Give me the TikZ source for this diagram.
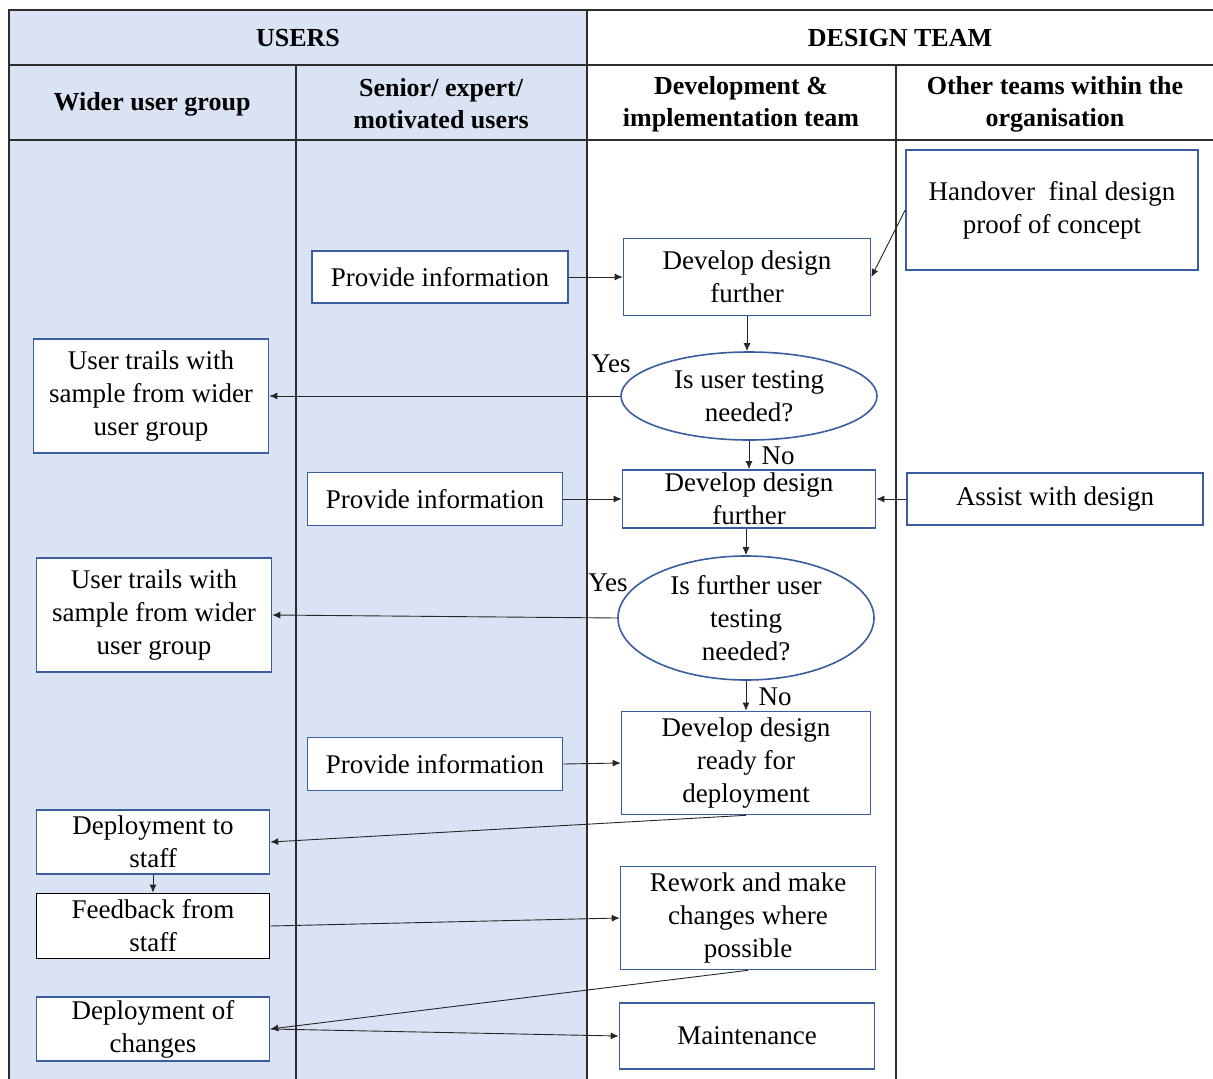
\documentclass[tikz,border=0pt]{standalone}
\usepackage{fontspec}
\setmainfont{Liberation Serif}
\definecolor{laneblue}{RGB}{218, 227, 243}
\definecolor{boxblue}{RGB}{58, 92, 160}
\definecolor{linegrey}{RGB}{45, 45, 45}
\usepackage{tikz}
\usetikzlibrary{shapes.geometric, arrows.meta}

\begin{document}
\begin{tikzpicture}[x=1pt, y=-1pt,
  actbox/.style={draw=boxblue, fill=white, line width=1.6pt, align=center, inner sep=0pt, font=\fontsize{27}{33}\selectfont},
  decision/.style={ellipse, draw=boxblue, fill=white, line width=1.6pt, align=center, inner sep=0pt, font=\fontsize{27}{33}\selectfont},
  lanehead/.style={align=center, font=\fontsize{26}{32}\selectfont\bfseries},
  flow/.style={-{Latex[length=8pt, width=7pt]}, line width=0.9pt, draw=black!85},
  lane/.style={line width=1.8pt, draw=linegrey}]
  \useasboundingbox (0, 0) rectangle (1213, 1079);

  % Swimlanes
  \fill[laneblue] (9, 10) rectangle (587, 1079);
  \draw[lane] (9, 1079) -- (9, 10) -- (1213, 10);
  \draw[lane] (9, 65) -- (1213, 65);
  \draw[lane] (9, 140) -- (1213, 140);
  \draw[lane] (587, 10) -- (587, 1079);
  \draw[lane] (296, 65) -- (296, 1079);
  \draw[lane] (896, 65) -- (896, 1079);

  \node[lanehead] (users) at (298, 38) {USERS};
  \node[lanehead] (design) at (900, 38) {DESIGN TEAM};
  \node[lanehead] (wider) at (152, 104) {Wider user group};
  \node[lanehead] (senior) at (441, 104) {Senior/ expert/\\motivated users};
  \node[lanehead] (devteam) at (741, 104) {Development \&\\implementation team};
  \node[lanehead] (other) at (1055, 104) {Other teams within the\\organisation};

  % First round
  \node[actbox, minimum width=292, minimum height=120] (handover) at (1052, 210) {Handover\ \ final design\\proof of concept};
  \node[actbox, minimum width=247, minimum height=77] (dev1) at (747, 277) {Develop design\\further};
  \node[actbox, minimum width=256, minimum height=52] (prov1) at (440, 277) {Provide information};
  \node[decision, minimum width=256, minimum height=88] (q1) at (749, 396) {Is user testing\\needed?};
  \node[actbox, minimum width=235, minimum height=114] (trial1) at (151, 396) {User trails with\\sample from wider\\user group};

  \draw[flow] (prov1.east) -- (dev1.west);
  \draw[flow] (handover.west) -- (dev1.east);
  \draw[flow] (dev1.south) -- (dev1.south |- q1.north);
  \draw[flow] (q1.west) -- (trial1.east);
  \node[font=\fontsize{27}{33}\selectfont] (yes1) at (611, 364) {Yes};

  % Second round
  \node[actbox, minimum width=253, minimum height=58] (dev2) at (749, 499) {Develop design\\further};
  \node[actbox, minimum width=255, minimum height=53] (prov2) at (435, 499) {Provide information};
  \node[actbox, minimum width=296, minimum height=52] (assist) at (1055, 499) {Assist with design};
  \node[decision, minimum width=256, minimum height=124] (q2) at (746, 618) {Is further user\\testing\\needed?};
  \node[actbox, minimum width=235, minimum height=114] (trial2) at (154, 615) {User trails with\\sample from wider\\user group};

  \draw[flow] (q1.south) -- (dev2.north);
  \node[font=\fontsize{27}{33}\selectfont] (no1) at (778, 456) {No};
  \draw[flow] (prov2.east) -- (dev2.west);
  \draw[flow] (assist.west) -- (dev2.east);
  \draw[flow] (q2.north |- dev2.south) -- (q2.north);
  \draw[flow] (q2.west) -- (trial2.east);
  \node[font=\fontsize{27}{33}\selectfont] (yes2) at (608, 583) {Yes};

  % Deployment
  \node[actbox, minimum width=249, minimum height=103] (dev3) at (746, 763) {Develop design\\ready for\\deployment};
  \node[actbox, minimum width=255, minimum height=53] (prov3) at (435, 764) {Provide information};
  \node[actbox, minimum width=233, minimum height=64] (deploy1) at (153, 842) {Deployment to\\staff};
  \node[actbox, draw=black, minimum width=233, minimum height=65] (feedback) at (153, 926) {Feedback from\\staff};
  \node[actbox, minimum width=255, minimum height=103] (rework) at (748, 918) {Rework and make\\changes where\\possible};
  \node[actbox, minimum width=233, minimum height=64] (deploy2) at (153, 1029) {Deployment of\\changes};
  \node[actbox, minimum width=255, minimum height=66] (maint) at (747, 1036) {Maintenance};

  \draw[flow] (q2.south) -- (dev3.north);
  \node[font=\fontsize{27}{33}\selectfont] (no2) at (775, 697) {No};
  \draw[flow] (prov3.east) -- (dev3.west);
  \draw[flow] (dev3.south) -- (deploy1.east);
  \draw[flow] (deploy1.south) -- (feedback.north);
  \draw[flow] (feedback.east) -- (rework.west);
  \draw[flow] (rework.south) -- (deploy2.east);
  \draw[flow] (deploy2.east) -- (maint.west);
\end{tikzpicture}
\end{document}
